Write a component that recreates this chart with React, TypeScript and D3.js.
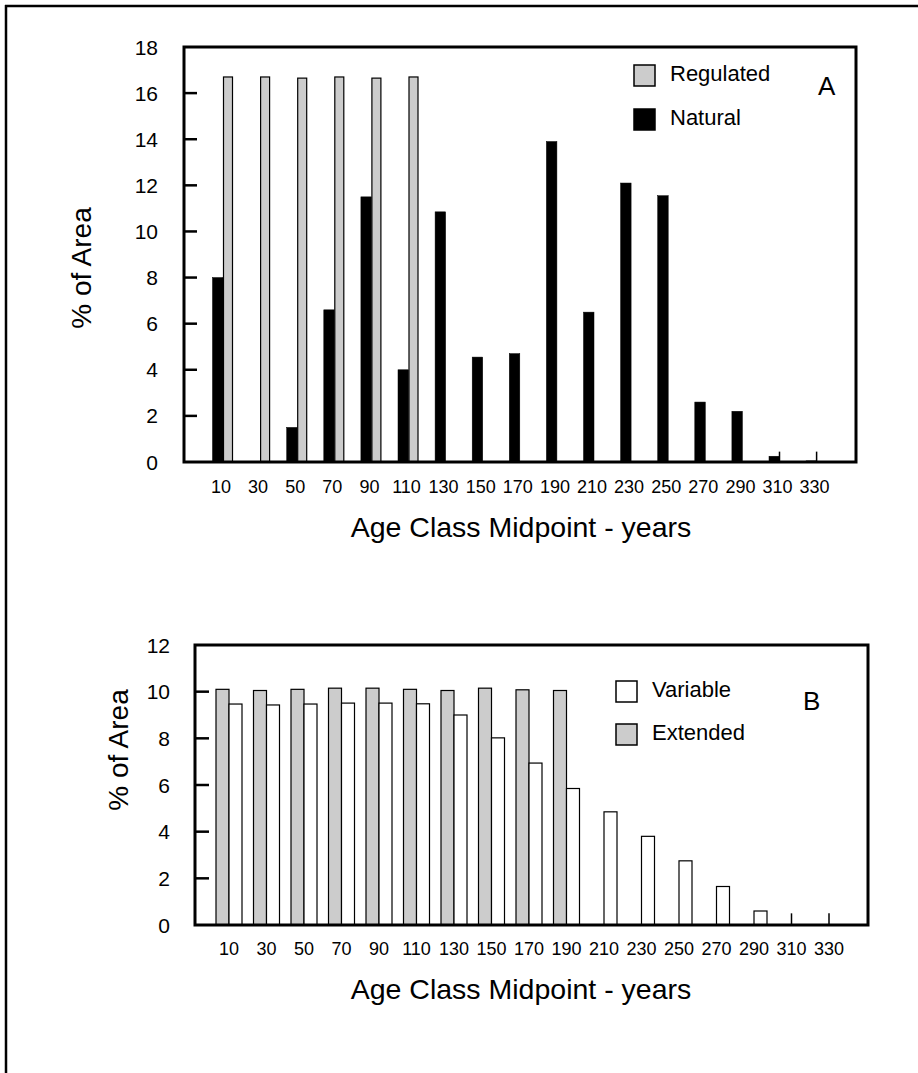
import React from 'react';
import * as d3 from 'd3';

const categories = ['10','30','50','70','90','110','130','150','170','190','210','230','250','270','290','310','330'];

// Panel A
const regulatedA = [16.7,16.7,16.65,16.7,16.65,16.7,0,0,0,0,0,0,0,0,0,0,0];
const naturalA = [8.0,0,1.5,6.6,11.5,4.0,10.85,4.55,4.7,13.9,6.5,12.1,11.55,2.6,2.2,0.25,0.05];
const stubsA = [{ cat: '310', v: 0.45 }, { cat: '330', v: 0.45 }];
const yTicksA = [0,2,4,6,8,10,12,14,16,18];

// Panel B
const extendedB = [10.1,10.05,10.1,10.15,10.15,10.1,10.05,10.15,10.08,10.05,0,0,0,0,0,0,0];
const variableB = [9.47,9.43,9.47,9.51,9.51,9.48,9.0,8.02,6.94,5.85,4.85,3.8,2.75,1.65,0.6,0,0];
const stubsB = [{ cat: '310', v: 0.5 }, { cat: '330', v: 0.5 }];
const yTicksB = [0,2,4,6,8,10,12];

const FONT = 'Liberation Sans, Arial, Helvetica, sans-serif';
const GRAY = '#cccccc';

function Panel(props: any) {
  const { x, y, left, right, top, bottom, yTicks, tickLen, tickLabelRight, xLabelBaseline, tickLabelDx,
    bars, stubs, legend, letter, yLabel, xTitle } = props;
  return (
    <g>
      {bars.map((s: any) =>
        s.values.map((v: number, i: number) => {
          if (v <= 0) return null;
          const c = x(categories[i]);
          const x0 = c + s.offset;
          return (
            <rect key={s.name + i} x={x0} y={y(v)} width={s.width} height={y(0) - y(v)}
              fill={s.fill} stroke={s.stroke} strokeWidth={s.strokeWidth} />
          );
        })
      )}
      {stubs.map((s: any, i: number) => (
        <line key={'st' + i} x1={x(s.cat)} x2={x(s.cat)} y1={y(0)} y2={y(s.v)} stroke="#000" strokeWidth={1.5} />
      ))}
      <rect x={left} y={top} width={right - left} height={bottom - top} fill="none" stroke="#000" strokeWidth={3} />
      {yTicks.map((t: number) => (
        <g key={'yt' + t}>
          {t > 0 && t < yTicks[yTicks.length - 1] && (
            <line x1={left} x2={left + tickLen} y1={y(t)} y2={y(t)} stroke="#000" strokeWidth={2.5} />
          )}
          <text x={tickLabelRight} y={y(t)} dy="0.36em" textAnchor="end" fontSize={21} fontFamily={FONT} fill="#000">{t}</text>
        </g>
      ))}
      {categories.map((c) => (
        <text key={'xt' + c} x={x(c) + tickLabelDx} y={xLabelBaseline} textAnchor="middle" fontSize={18} fontFamily={FONT} fill="#000">{c}</text>
      ))}
      <text x={xTitle.x} y={xTitle.y} textAnchor="middle" fontSize={28.5} fontFamily={FONT} fill="#000">Age Class Midpoint - years</text>
      <text transform={`translate(${yLabel.x},${yLabel.y}) rotate(-90)`} textAnchor="middle" fontSize={28} fontFamily={FONT} fill="#000">% of Area</text>
      {legend.map((l: any, i: number) => (
        <g key={'lg' + i}>
          <rect x={l.x} y={l.y} width={21} height={21} fill={l.fill} stroke="#000" strokeWidth={1.5} />
          <text x={l.x + 36} y={l.y + 16} fontSize={22} fontFamily={FONT} fill="#000">{l.label}</text>
        </g>
      ))}
      <text x={letter.x} y={letter.y} fontSize={26} fontFamily={FONT} fill="#000">{letter.text}</text>
    </g>
  );
}

export default function App() {
  const xA = d3.scalePoint<string>().domain(categories).range([223, 223 + 16 * 37.1]);
  const yA = d3.scaleLinear().domain([0, 18]).range([462, 47]);
  const xB = d3.scalePoint<string>().domain(categories).range([229, 829]);
  const yB = d3.scaleLinear().domain([0, 12]).range([925, 645]);

  return (
    <svg width={918} height={1073} style={{ position: 'absolute', left: 0, top: 0, background: '#fff' }}>
      <rect x={0} y={0} width={918} height={1073} fill="#fff" />
      <line x1={6} x2={6} y1={5} y2={1073} stroke="#000" strokeWidth={2.5} />
      <line x1={5} x2={918} y1={6} y2={6} stroke="#000" strokeWidth={2.5} />
      <Panel
        x={xA} y={yA} left={184} right={856} top={47} bottom={462}
        yTicks={yTicksA} tickLen={13} tickLabelRight={158} xLabelBaseline={493} tickLabelDx={-2}
        bars={[
          { name: 'nat', values: naturalA, offset: -10.5, width: 10.5, fill: '#000', stroke: '#000', strokeWidth: 0.5 },
          { name: 'reg', values: regulatedA, offset: 0.5, width: 9, fill: GRAY, stroke: '#000', strokeWidth: 1.2 },
        ]}
        stubs={stubsA}
        legend={[
          { x: 634, y: 65, fill: GRAY, label: 'Regulated' },
          { x: 634, y: 109, fill: '#000', label: 'Natural' },
        ]}
        letter={{ x: 818, y: 95, text: 'A' }}
        yLabel={{ x: 91, y: 268 }}
        xTitle={{ x: 521, y: 537 }}
      />
      <Panel
        x={xB} y={yB} left={195} right={868} top={645} bottom={925}
        yTicks={yTicksB} tickLen={14} tickLabelRight={170} xLabelBaseline={955} tickLabelDx={0}
        bars={[
          { name: 'ext', values: extendedB, offset: -13, width: 13, fill: GRAY, stroke: '#000', strokeWidth: 1.2 },
          { name: 'var', values: variableB, offset: 0, width: 13, fill: '#fff', stroke: '#000', strokeWidth: 1.2 },
        ]}
        stubs={stubsB}
        legend={[
          { x: 616, y: 681, fill: '#fff', label: 'Variable' },
          { x: 616, y: 724, fill: GRAY, label: 'Extended' },
        ]}
        letter={{ x: 803, y: 710, text: 'B' }}
        yLabel={{ x: 128, y: 750 }}
        xTitle={{ x: 521, y: 999 }}
      />
    </svg>
  );
}
